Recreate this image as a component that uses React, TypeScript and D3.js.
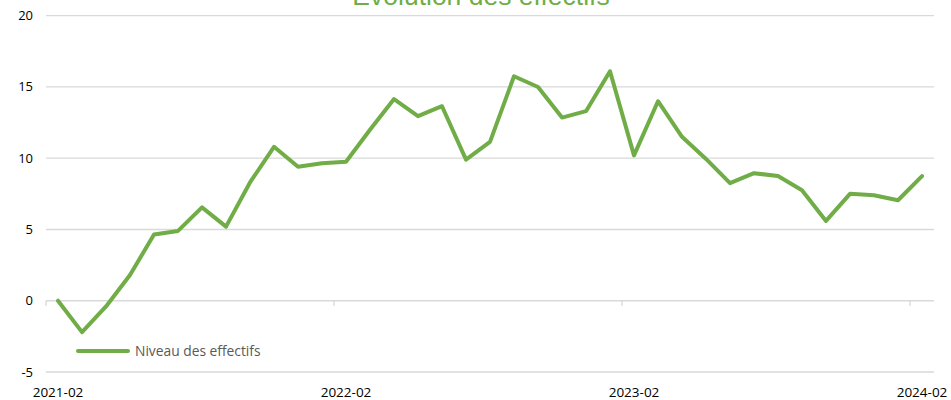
import React from "react";
import * as d3 from "d3";

const months: string[] = [
  "2021-02","2021-03","2021-04","2021-05","2021-06","2021-07","2021-08","2021-09","2021-10","2021-11","2021-12","2022-01",
  "2022-02","2022-03","2022-04","2022-05","2022-06","2022-07","2022-08","2022-09","2022-10","2022-11","2022-12","2023-01",
  "2023-02","2023-03","2023-04","2023-05","2023-06","2023-07","2023-08","2023-09","2023-10","2023-11","2023-12","2024-01",
  "2024-02",
];
const values: number[] = [
  0, -2.2, -0.4, 1.8, 4.65, 4.9, 6.55, 5.2, 8.3, 10.8, 9.4, 9.65,
  9.75, 12.0, 14.15, 12.95, 13.65, 9.9, 11.15, 15.75, 15.0, 12.85, 13.3, 16.1,
  10.2, 14.0, 11.5, 9.95, 8.25, 8.95, 8.75, 7.75, 5.6, 7.5, 7.4, 7.05,
  8.75,
];
const yTicks: number[] = [-5, 0, 5, 10, 15, 20];
const xLabels: string[] = ["2021-02", "2022-02", "2023-02", "2024-02"];
const title = "Évolution des effectifs";
const seriesName = "Niveau des effectifs";

const W = 951, H = 400;
const left = 46, right = 934, top = 15.7, bottom = 372;
const green = "#70AD47";
const font = "'Open Sans', 'Liberation Sans', sans-serif";

export default function App() {
  const x = d3.scaleBand<string>().domain(months).range([left, right]);
  const y = d3.scaleLinear().domain([-5, 20]).range([bottom, top]);
  const line = d3
    .line<number>()
    .x((_, i) => (x(months[i]) as number) + x.bandwidth() / 2)
    .y((d) => y(d));
  const boundaries = xLabels.map((m) => x(m) as number);
  return (
    <svg width={W} height={H} style={{ position: "absolute", left: 0, top: 0 }}>
      <rect width={W} height={H} fill="#fff" />
      {yTicks.map((t) => (
        <g key={t}>
          <line x1={left} x2={right} y1={y(t)} y2={y(t)} stroke="#d9d9d9" strokeWidth={1.3} />
          <text x={33} y={y(t) + 4.5} textAnchor="end" fontSize={13} fontFamily={font} fill="#000">
            {t}
          </text>
        </g>
      ))}
      {boundaries.map((b, i) => (
        <line key={i} x1={b} x2={b} y1={y(0)} y2={y(0) + 5} stroke="#d9d9d9" strokeWidth={1.3} />
      ))}
      {xLabels.map((m) => (
        <text
          key={m}
          x={(x(m) as number) + x.bandwidth() / 2}
          y={397}
          textAnchor="middle"
          fontSize={13.5}
          fontFamily={font}
          fill="#000"
        >
          {m}
        </text>
      ))}
      <path d={line(values) || ""} fill="none" stroke={green} strokeWidth={4} strokeLinejoin="round" strokeLinecap="round" />
      <text x={481} y={4.5} textAnchor="middle" fontSize={26.5} fontFamily="'Liberation Sans', Arial, sans-serif" fill={green}>
        {title}
      </text>
      <line x1={78} x2={128} y1={351} y2={351} stroke={green} strokeWidth={4} strokeLinecap="round" />
      <text x={135} y={356} fontSize={13.8} fontFamily={font} fill="#595959">
        {seriesName}
      </text>
    </svg>
  );
}
